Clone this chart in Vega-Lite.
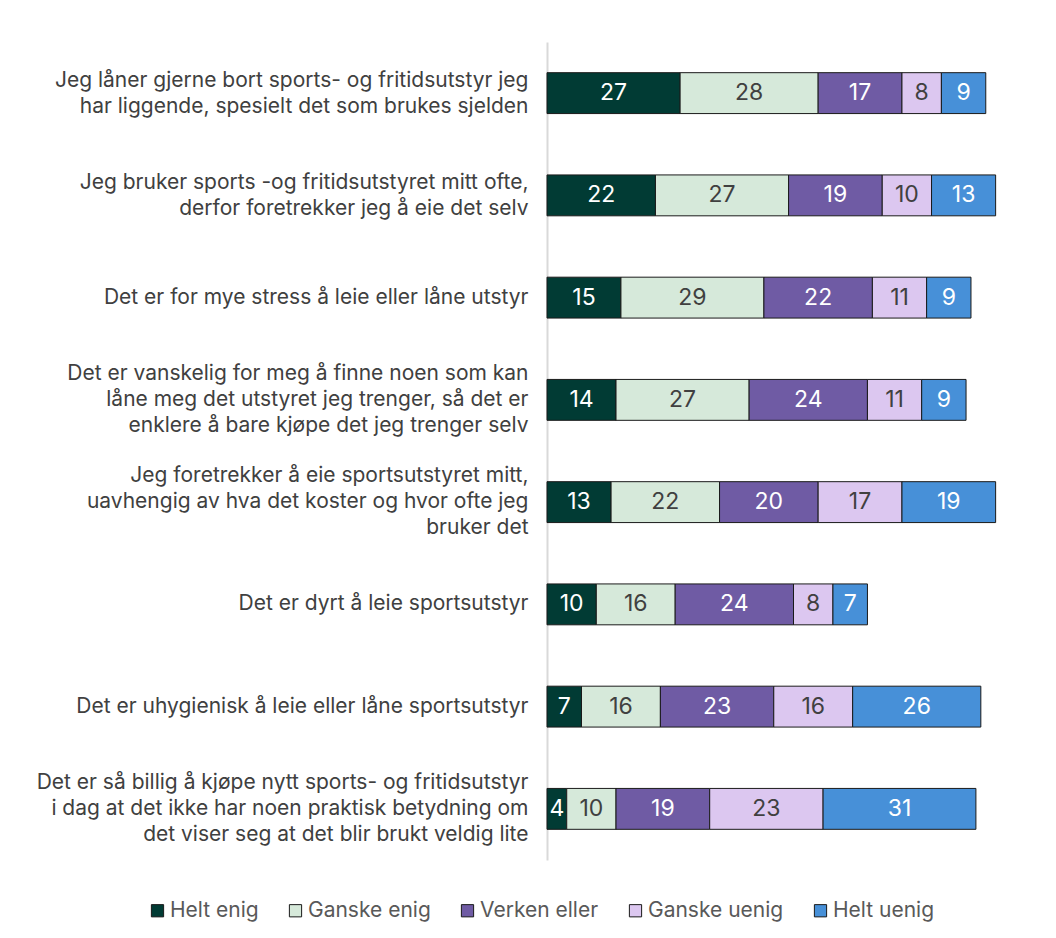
{
  "$schema": "https://vega.github.io/schema/vega-lite/v6.json",
  "width": 493,
  "height": 818,
  "padding": {"left": 36, "top": 42, "right": 10, "bottom": 10},
  "background": "white",
  "config": {
    "font": "Inter",
    "view": {"stroke": null}
  },
  "data": {
    "values": [
      {"q": "Jeg låner gjerne bort sports- og fritidsutstyr jeg|har liggende, spesielt det som brukes sjelden", "qo": 1, "cat": "Helt enig", "o": 1, "v": 27},
      {"q": "Jeg låner gjerne bort sports- og fritidsutstyr jeg|har liggende, spesielt det som brukes sjelden", "qo": 1, "cat": "Ganske enig", "o": 2, "v": 28},
      {"q": "Jeg låner gjerne bort sports- og fritidsutstyr jeg|har liggende, spesielt det som brukes sjelden", "qo": 1, "cat": "Verken eller", "o": 3, "v": 17},
      {"q": "Jeg låner gjerne bort sports- og fritidsutstyr jeg|har liggende, spesielt det som brukes sjelden", "qo": 1, "cat": "Ganske uenig", "o": 4, "v": 8},
      {"q": "Jeg låner gjerne bort sports- og fritidsutstyr jeg|har liggende, spesielt det som brukes sjelden", "qo": 1, "cat": "Helt uenig", "o": 5, "v": 9},
      {"q": "Jeg bruker sports -og fritidsutstyret mitt ofte,|derfor foretrekker jeg å eie det selv", "qo": 2, "cat": "Helt enig", "o": 1, "v": 22},
      {"q": "Jeg bruker sports -og fritidsutstyret mitt ofte,|derfor foretrekker jeg å eie det selv", "qo": 2, "cat": "Ganske enig", "o": 2, "v": 27},
      {"q": "Jeg bruker sports -og fritidsutstyret mitt ofte,|derfor foretrekker jeg å eie det selv", "qo": 2, "cat": "Verken eller", "o": 3, "v": 19},
      {"q": "Jeg bruker sports -og fritidsutstyret mitt ofte,|derfor foretrekker jeg å eie det selv", "qo": 2, "cat": "Ganske uenig", "o": 4, "v": 10},
      {"q": "Jeg bruker sports -og fritidsutstyret mitt ofte,|derfor foretrekker jeg å eie det selv", "qo": 2, "cat": "Helt uenig", "o": 5, "v": 13},
      {"q": "Det er for mye stress å leie eller låne utstyr", "qo": 3, "cat": "Helt enig", "o": 1, "v": 15},
      {"q": "Det er for mye stress å leie eller låne utstyr", "qo": 3, "cat": "Ganske enig", "o": 2, "v": 29},
      {"q": "Det er for mye stress å leie eller låne utstyr", "qo": 3, "cat": "Verken eller", "o": 3, "v": 22},
      {"q": "Det er for mye stress å leie eller låne utstyr", "qo": 3, "cat": "Ganske uenig", "o": 4, "v": 11},
      {"q": "Det er for mye stress å leie eller låne utstyr", "qo": 3, "cat": "Helt uenig", "o": 5, "v": 9},
      {"q": "Det er vanskelig for meg å finne noen som kan|låne meg det utstyret jeg trenger, så det er|enklere å bare kjøpe det jeg trenger selv", "qo": 4, "cat": "Helt enig", "o": 1, "v": 14},
      {"q": "Det er vanskelig for meg å finne noen som kan|låne meg det utstyret jeg trenger, så det er|enklere å bare kjøpe det jeg trenger selv", "qo": 4, "cat": "Ganske enig", "o": 2, "v": 27},
      {"q": "Det er vanskelig for meg å finne noen som kan|låne meg det utstyret jeg trenger, så det er|enklere å bare kjøpe det jeg trenger selv", "qo": 4, "cat": "Verken eller", "o": 3, "v": 24},
      {"q": "Det er vanskelig for meg å finne noen som kan|låne meg det utstyret jeg trenger, så det er|enklere å bare kjøpe det jeg trenger selv", "qo": 4, "cat": "Ganske uenig", "o": 4, "v": 11},
      {"q": "Det er vanskelig for meg å finne noen som kan|låne meg det utstyret jeg trenger, så det er|enklere å bare kjøpe det jeg trenger selv", "qo": 4, "cat": "Helt uenig", "o": 5, "v": 9},
      {"q": "Jeg foretrekker å eie sportsutstyret mitt,|uavhengig av hva det koster og hvor ofte jeg|bruker det", "qo": 5, "cat": "Helt enig", "o": 1, "v": 13},
      {"q": "Jeg foretrekker å eie sportsutstyret mitt,|uavhengig av hva det koster og hvor ofte jeg|bruker det", "qo": 5, "cat": "Ganske enig", "o": 2, "v": 22},
      {"q": "Jeg foretrekker å eie sportsutstyret mitt,|uavhengig av hva det koster og hvor ofte jeg|bruker det", "qo": 5, "cat": "Verken eller", "o": 3, "v": 20},
      {"q": "Jeg foretrekker å eie sportsutstyret mitt,|uavhengig av hva det koster og hvor ofte jeg|bruker det", "qo": 5, "cat": "Ganske uenig", "o": 4, "v": 17},
      {"q": "Jeg foretrekker å eie sportsutstyret mitt,|uavhengig av hva det koster og hvor ofte jeg|bruker det", "qo": 5, "cat": "Helt uenig", "o": 5, "v": 19},
      {"q": "Det er dyrt å leie sportsutstyr", "qo": 6, "cat": "Helt enig", "o": 1, "v": 10},
      {"q": "Det er dyrt å leie sportsutstyr", "qo": 6, "cat": "Ganske enig", "o": 2, "v": 16},
      {"q": "Det er dyrt å leie sportsutstyr", "qo": 6, "cat": "Verken eller", "o": 3, "v": 24},
      {"q": "Det er dyrt å leie sportsutstyr", "qo": 6, "cat": "Ganske uenig", "o": 4, "v": 8},
      {"q": "Det er dyrt å leie sportsutstyr", "qo": 6, "cat": "Helt uenig", "o": 5, "v": 7},
      {"q": "Det er uhygienisk å leie eller låne sportsutstyr", "qo": 7, "cat": "Helt enig", "o": 1, "v": 7},
      {"q": "Det er uhygienisk å leie eller låne sportsutstyr", "qo": 7, "cat": "Ganske enig", "o": 2, "v": 16},
      {"q": "Det er uhygienisk å leie eller låne sportsutstyr", "qo": 7, "cat": "Verken eller", "o": 3, "v": 23},
      {"q": "Det er uhygienisk å leie eller låne sportsutstyr", "qo": 7, "cat": "Ganske uenig", "o": 4, "v": 16},
      {"q": "Det er uhygienisk å leie eller låne sportsutstyr", "qo": 7, "cat": "Helt uenig", "o": 5, "v": 26},
      {"q": "Det er så billig å kjøpe nytt sports- og fritidsutstyr|i dag at det ikke har noen praktisk betydning om|det viser seg at det blir brukt veldig lite", "qo": 8, "cat": "Helt enig", "o": 1, "v": 4},
      {"q": "Det er så billig å kjøpe nytt sports- og fritidsutstyr|i dag at det ikke har noen praktisk betydning om|det viser seg at det blir brukt veldig lite", "qo": 8, "cat": "Ganske enig", "o": 2, "v": 10},
      {"q": "Det er så billig å kjøpe nytt sports- og fritidsutstyr|i dag at det ikke har noen praktisk betydning om|det viser seg at det blir brukt veldig lite", "qo": 8, "cat": "Verken eller", "o": 3, "v": 19},
      {"q": "Det er så billig å kjøpe nytt sports- og fritidsutstyr|i dag at det ikke har noen praktisk betydning om|det viser seg at det blir brukt veldig lite", "qo": 8, "cat": "Ganske uenig", "o": 4, "v": 23},
      {"q": "Det er så billig å kjøpe nytt sports- og fritidsutstyr|i dag at det ikke har noen praktisk betydning om|det viser seg at det blir brukt veldig lite", "qo": 8, "cat": "Helt uenig", "o": 5, "v": 31}
    ]
  },
  "transform": [
    {"stack": "v", "groupby": ["q"], "sort": [{"field": "o", "order": "ascending"}], "as": ["x0", "x1"]},
    {"calculate": "(datum.x0 + datum.x1) / 2", "as": "xm"}
  ],
  "encoding": {
    "y": {
      "field": "q",
      "type": "nominal",
      "sort": {"field": "qo", "order": "ascending"},
      "title": null,
      "scale": {"paddingInner": 0.6, "paddingOuter": 0.3},
      "axis": {
        "labelExpr": "split(datum.label, '|')",
        "labelFontSize": 21,
        "labelColor": "#404040",
        "labelLineHeight": 26,
        "labelPadding": 19,
        "labelLimit": 700,
        "ticks": false,
        "domainColor": "#d9d9d9",
        "domainWidth": 2,
        "labelAlign": "right",
        "labelOffset": {
          "condition": [
            {"test": "length(split(datum.value, '|')) === 3", "value": -26},
            {"test": "length(split(datum.value, '|')) === 2", "value": -12}
          ],
          "value": 0
        }
      }
    }
  },
  "layer": [
    {
      "mark": {"type": "bar", "stroke": "#1a1a1a", "strokeWidth": 1},
      "encoding": {
        "x": {"field": "x0", "type": "quantitative", "scale": {"domain": [0, 100]}, "axis": null},
        "x2": {"field": "x1"},
        "color": {
          "field": "cat",
          "type": "nominal",
          "sort": ["Helt enig", "Ganske enig", "Verken eller", "Ganske uenig", "Helt uenig"],
          "scale": {
            "domain": ["Helt enig", "Ganske enig", "Verken eller", "Ganske uenig", "Helt uenig"],
            "range": ["#013b34", "#d6e9da", "#6f5ba4", "#dcc7f0", "#4790d8"]
          },
          "legend": {
            "title": null,
            "orient": "none",
            "legendX": -400,
            "legendY": 858,
            "direction": "horizontal",
            "symbolType": "square",
            "symbolSize": 150,
            "symbolStrokeColor": "#1a1a1a",
            "symbolStrokeWidth": 1,
            "labelFontSize": 21,
            "labelColor": "#595959",
            "columnPadding": 26,
            "labelOffset": 2
          }
        }
      }
    },
    {
      "mark": {"type": "text", "fontSize": 23, "baseline": "middle", "align": "center"},
      "encoding": {
        "x": {"field": "xm", "type": "quantitative"},
        "text": {"field": "v", "type": "quantitative"},
        "color": {
          "condition": {"test": "datum.cat === 'Ganske enig' || datum.cat === 'Ganske uenig'", "value": "#404040"},
          "value": "#ffffff"
        }
      }
    }
  ]
}
